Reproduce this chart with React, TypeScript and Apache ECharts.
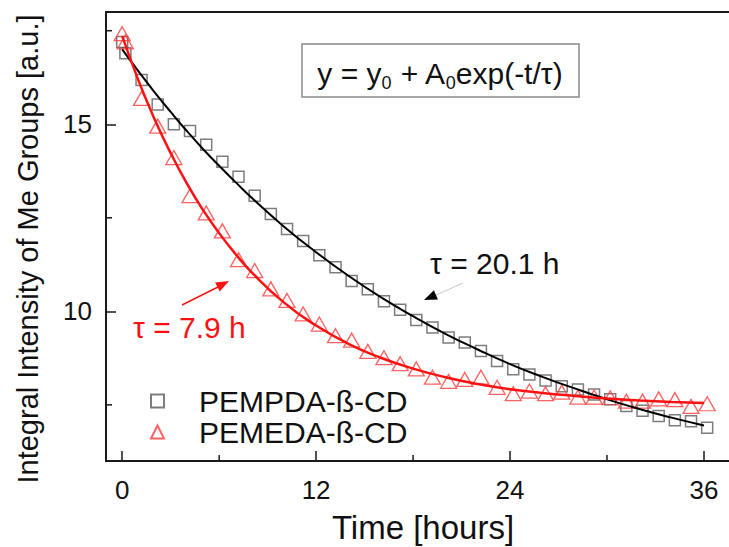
import React, { useEffect, useRef } from "react";
import * as echarts from "echarts";

// ---- data ----
const sampleHours = [0, 0.2, 1.2, 2.2, 3.2, 4.2, 5.2, 6.2, 7.2, 8.2, 9.2, 10.2, 11.2, 12.2, 13.2, 14.2, 15.2, 16.2, 17.2, 18.2, 19.2, 20.2, 21.2, 22.2, 23.2, 24.2, 25.2, 26.2, 27.2, 28.2, 29.2, 30.2, 31.2, 32.2, 33.2, 34.2, 35.2, 36.2];
const pempdaValues = [17.2, 16.9, 16.18, 15.53, 15.0, 14.82, 14.45, 14.0, 13.6, 13.09, 12.6, 12.2, 11.88, 11.5, 11.18, 10.81, 10.59, 10.27, 10.04, 9.77, 9.57, 9.3, 9.17, 8.94, 8.67, 8.45, 8.31, 8.15, 8.0, 7.91, 7.78, 7.65, 7.47, 7.34, 7.2, 7.09, 7.06, 6.89];
const pemedaValues = [17.42, 17.2, 15.69, 14.95, 14.11, 13.09, 12.63, 12.15, 11.38, 11.09, 10.6, 10.29, 9.93, 9.66, 9.35, 9.23, 8.93, 8.76, 8.6, 8.46, 8.24, 8.13, 8.18, 8.24, 7.97, 7.8, 7.87, 7.8, 7.84, 7.71, 7.71, 7.69, 7.6, 7.6, 7.66, 7.64, 7.46, 7.53];

const fitHours = [0, 1, 2, 3, 4, 5, 6, 7, 8, 10, 12, 14, 16, 18, 20, 22, 24, 26, 28, 30, 32, 34, 36];
const pempdaFit = [17.0, 16.42, 15.86, 15.33, 14.82, 14.34, 13.89, 13.46, 13.04, 12.27, 11.58, 10.95, 10.38, 9.87, 9.4, 8.98, 8.59, 8.25, 7.94, 7.65, 7.39, 7.16, 6.95];
const pemedaFit = [17.36, 16.18, 15.14, 14.23, 13.42, 12.71, 12.09, 11.54, 11.05, 10.24, 9.62, 9.13, 8.76, 8.47, 8.24, 8.06, 7.92, 7.82, 7.74, 7.67, 7.62, 7.58, 7.55];

const xMajorTicks = [0, 12, 24, 36];
const xMinorTicks = [6, 18, 30];
const yMajorTicks = [10, 15];
const yMinorTicks = [7.5, 12.5, 17.5];

const seriesNames = ["PEMPDA-ß-CD", "PEMEDA-ß-CD"];

const FONT = "'Liberation Sans', Arial, sans-serif";

const X_MIN = -1;
const X_MAX = 37.55;
const Y_MIN = 6;
const Y_MAX = 18;

export default function App() {
  const ref = useRef<HTMLDivElement>(null);

  useEffect(() => {
    if (!ref.current) return;
    const chart = echarts.init(ref.current, undefined, { renderer: "svg" });

    const pairs = (xs: number[], ys: number[]) => xs.map((x, i) => [x, ys[i]]);

    const axisLineStyle = { color: "#1a1a1a", width: 2 };
    const tickStyle = { color: "#1a1a1a", width: 1.5 };

    const xMinorData = xMinorTicks.map((v) => [v, Y_MIN]);
    const yMinorData = yMinorTicks.map((v) => [X_MIN, v]);

    const minorRender = (vertical: boolean) => (params: any, api: any) => {
      const p = api.coord([api.value(0), api.value(1)]);
      return {
        type: "line",
        shape: vertical
          ? { x1: p[0], y1: p[1], x2: p[0], y2: p[1] - 6 }
          : { x1: p[0], y1: p[1], x2: p[0] + 6, y2: p[1] },
        style: { stroke: "#1a1a1a", lineWidth: 1.5 },
      };
    };

    const option: any = {
      animation: false,
      backgroundColor: "#ffffff",
      textStyle: { fontFamily: FONT },
      grid: { left: 106, right: 0, top: 12, bottom: 86, containLabel: false },
      xAxis: [
        {
          type: "value",
          min: X_MIN,
          max: X_MAX,
          position: "bottom",
          axisLine: { show: true, onZero: false, lineStyle: axisLineStyle },
          axisTick: { show: true, inside: true, length: 10, customValues: xMajorTicks, lineStyle: tickStyle },
          axisLabel: { show: true, customValues: xMajorTicks, fontSize: 26, margin: 16, color: "#111", fontFamily: FONT },
          splitLine: { show: false },
        },
        {
          type: "value",
          min: X_MIN,
          max: X_MAX,
          position: "top",
          axisLine: { show: true, onZero: false, lineStyle: axisLineStyle },
          axisTick: { show: false },
          axisLabel: { show: false },
          splitLine: { show: false },
        },
      ],
      yAxis: [
        {
          type: "value",
          min: Y_MIN,
          max: Y_MAX,
          position: "left",
          axisLine: { show: true, onZero: false, lineStyle: axisLineStyle },
          axisTick: { show: true, inside: true, length: 10, customValues: yMajorTicks, lineStyle: tickStyle },
          axisLabel: { show: true, customValues: yMajorTicks, fontSize: 26, margin: 14, color: "#111", fontFamily: FONT },
          splitLine: { show: false },
        },
      ],
      legend: {
        data: seriesNames,
        orient: "vertical",
        left: 145,
        top: 381,
        itemWidth: 13,
        itemHeight: 13,
        itemGap: 1,
        textStyle: { fontSize: 30, color: "#111", fontFamily: FONT, padding: [0, 0, 0, 30], lineHeight: 30 },
      },
      series: [
        {
          name: "x minor ticks",
          type: "custom",
          xAxisIndex: 0,
          yAxisIndex: 0,
          clip: false,
          silent: true,
          data: xMinorData,
          renderItem: minorRender(true),
          z: 5,
        },
        {
          name: "y minor ticks",
          type: "custom",
          xAxisIndex: 0,
          yAxisIndex: 0,
          clip: false,
          silent: true,
          data: yMinorData,
          renderItem: minorRender(false),
          z: 5,
        },
        {
          name: seriesNames[0],
          type: "scatter",
          data: pairs(sampleHours, pempdaValues),
          symbol: "rect",
          symbolSize: 11,
          itemStyle: { color: "rgba(255,255,255,0)", borderColor: "#5c5c5c", borderWidth: 1.5 },
          z: 2,
        },
        {
          name: seriesNames[1],
          type: "scatter",
          data: pairs(sampleHours, pemedaValues),
          symbol: "triangle",
          symbolSize: [16, 14],
          itemStyle: { color: "rgba(255,255,255,0)", borderColor: "#ff3b3b", borderWidth: 1.3 },
          z: 2,
        },
        {
          name: "PEMPDA fit",
          type: "line",
          data: pairs(fitHours, pempdaFit),
          smooth: true,
          showSymbol: false,
          lineStyle: { color: "#000", width: 2 },
          z: 3,
        },
        {
          name: "PEMEDA fit",
          type: "line",
          data: pairs(fitHours, pemedaFit),
          smooth: true,
          showSymbol: false,
          lineStyle: { color: "#ff1111", width: 2.5 },
          z: 3,
        },
      ],
      graphic: [
        {
          type: "rect",
          shape: { x: 302, y: 44, width: 277, height: 53 },
          style: { fill: "#fff", stroke: "#8a8a8a", lineWidth: 1.5 },
          z: 10,
        },
        {
          type: "text",
          x: 440,
          y: 73,
          z: 11,
          style: {
            text: "y = y{s|0} + A{s|0}exp(-t/τ)",
            align: "center",
            verticalAlign: "middle",
            font: `30px ${FONT}`,
            lineHeight: 38,
            fill: "#111",
            rich: {
              s: { fontSize: 18, fontFamily: FONT, verticalAlign: "bottom", lineHeight: 4, fill: "#111" },
            },
          },
        },
        {
          type: "text",
          x: 28,
          y: 249,
          rotation: Math.PI / 2,
          style: { text: "Integral Intensity of Me Groups [a.u.]", align: "center", verticalAlign: "middle", font: `29px ${FONT}`, fill: "#111" },
        },
        {
          type: "text",
          x: 423,
          y: 527,
          style: { text: "Time [hours]", align: "center", verticalAlign: "middle", font: `33px ${FONT}`, fill: "#111" },
        },
        {
          type: "text",
          x: 430,
          y: 263,
          style: { text: "τ = 20.1 h", align: "left", verticalAlign: "middle", font: `30px ${FONT}`, fill: "#111" },
        },
        {
          type: "text",
          x: 133,
          y: 327,
          style: { text: "τ = 7.9 h", align: "left", verticalAlign: "middle", font: `30px ${FONT}`, fill: "#ff1111" },
        },
        {
          type: "line",
          shape: { x1: 463, y1: 283, x2: 434, y2: 296 },
          style: { stroke: "#c8c8c8", lineWidth: 1 },
        },
        {
          type: "polygon",
          shape: { points: [[424, 300], [437.9, 299.4], [433.9, 290.2]] },
          style: { fill: "#000" },
        },
        {
          type: "line",
          shape: { x1: 182, y1: 305, x2: 218, y2: 287 },
          style: { stroke: "#ff1111", lineWidth: 1.5 },
        },
        {
          type: "polygon",
          shape: { points: [[229, 281], [219.7, 291.4], [215.1, 282.5]] },
          style: { fill: "#ff1111" },
        },
      ],
    };

    chart.setOption(option);
    return () => chart.dispose();
  }, []);

  return (
    <div
      ref={ref}
      style={{ position: "absolute", left: 0, top: 0, width: 729, height: 547, background: "#fff" }}
    />
  );
}
